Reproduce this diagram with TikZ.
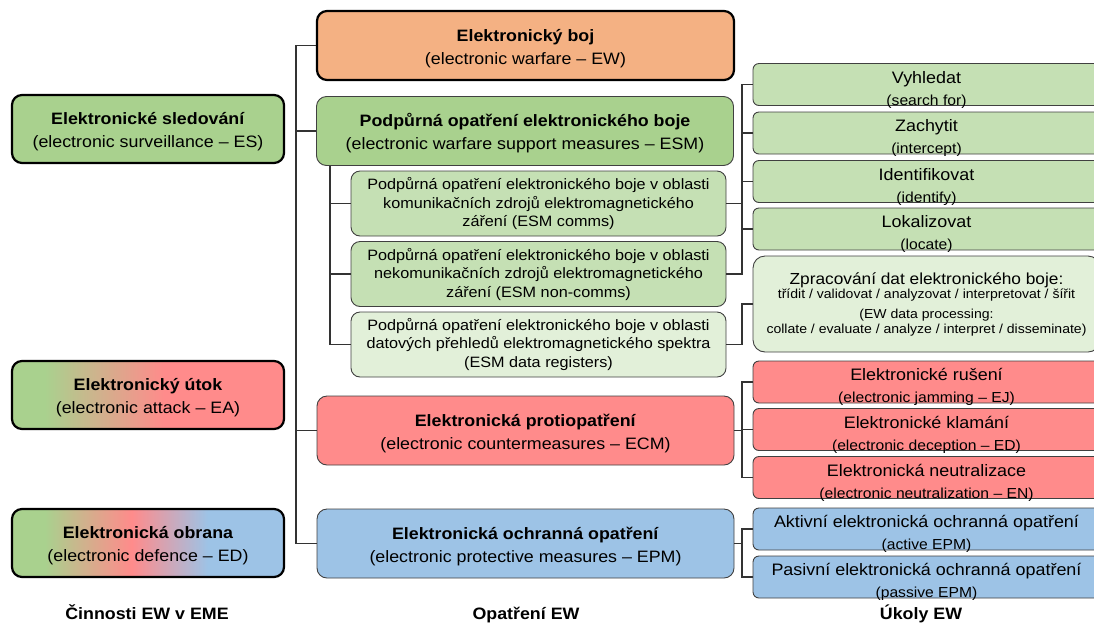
\documentclass[tikz,border=0pt]{standalone}
\usepackage{fontspec}
\setmainfont{Liberation Sans}[FakeStretch=1.08]
\usepackage{xcolor}
\lineskiplimit=-20pt

\definecolor{oranzova}{HTML}{F4B183}
\definecolor{zelena}{HTML}{A9D18E}
\definecolor{svzelena}{HTML}{C5E0B4}
\definecolor{bledezelena}{HTML}{E2F0D9}
\definecolor{cervena}{HTML}{FF8B8B}
\definecolor{modra}{HTML}{9DC3E6}
\definecolor{car}{HTML}{333333}

\pgfdeclarehorizontalshading{utok}{100bp}{color(0bp)=(zelena); color(31bp)=(zelena); color(53bp)=(cervena); color(100bp)=(cervena)}
\pgfdeclarehorizontalshading{obrana}{100bp}{color(0bp)=(zelena); color(31bp)=(zelena); color(47bp)=(cervena); color(61bp)=(modra); color(100bp)=(modra)}

\begin{document}
\begin{tikzpicture}[x=1pt, y=-1pt,
  lbox/.style={draw=black, line width=2.2pt, rounded corners=10pt, minimum width=272pt, minimum height=68pt, align=center, font=\fontsize{16.5}{23}\selectfont, text height=41pt, text depth=4pt},
  mbox/.style={draw=black!75, line width=0.9pt, rounded corners=10pt, minimum width=417pt, minimum height=69pt, align=center, font=\fontsize{16.5}{23}\selectfont, text height=41pt, text depth=4pt},
  sbox/.style={draw=black!75, line width=0.9pt, rounded corners=9pt, minimum width=375pt, minimum height=65pt, inner ysep=2pt, align=center, font=\fontsize{15}{18.5}\selectfont},
  rbox/.style={draw=black!75, line width=0.9pt, rounded corners=6pt, minimum width=347pt, minimum height=42pt, align=center},
  ukol/.style={rbox, inner ysep=-3pt, font=\fontsize{16.6}{22}\selectfont, text height=44pt, text depth=3pt},
  pod/.style={font=\bfseries\fontsize{16.5}{20}\selectfont, anchor=base},
  spoj/.style={draw=car, line width=1.3pt}]
			\useasboundingbox (0,0) rectangle (1094,622);
			\clip (0,0) rectangle (1094,622);
			% levý sloupec
			\node [lbox, fill=zelena] (es) at (148,129) {\textbf{Elektronické sledování}\\(electronic surveillance – ES)};
			\node [lbox, shade, shading=utok] (ea) at (148,395) {\textbf{Elektronický útok}\\(electronic attack – EA)};
			\node [lbox, shade, shading=obrana] (ed) at (148,543) {\textbf{Elektronická obrana}\\(electronic defence – ED)};
			% prostřední sloupec
			\node [mbox, fill=oranzova, draw=black, line width=2.2pt] (ew) at (525.5,45.5) {\textbf{Elektronický boj}\\(electronic warfare – EW)};
			\node [mbox, fill=zelena] (esm) at (525,131) {\textbf{Podpůrná opatření elektronického boje}\\(electronic warfare support measures – ESM)};
			\node [sbox, fill=svzelena] (comms) at (538.5,203.5) {Podpůrná opatření elektronického boje v oblasti\\komunikačních zdrojů elektromagnetického\\záření (ESM comms)};
			\node [sbox, fill=svzelena] (noncomms) at (538.5,274) {Podpůrná opatření elektronického boje v oblasti\\nekomunikačních zdrojů elektromagnetického\\záření (ESM non-comms)};
			\node [sbox, fill=bledezelena] (data) at (538.5,344.5) {Podpůrná opatření elektronického boje v oblasti\\datových přehledů elektromagnetického spektra\\(ESM data registers)};
			\node [mbox, fill=cervena] (ecm) at (525.5,430.5) {\textbf{Elektronická protiopatření}\\(electronic countermeasures – ECM)};
			\node [mbox, fill=modra] (epm) at (525.5,543.5) {\textbf{Elektronická ochranná opatření}\\(electronic protective measures – EPM)};
			% pravý sloupec
			\node [ukol, fill=svzelena] (vyh) at (926.5,84.5) {Vyhledat\\{\fontsize{14.5}{22}\selectfont (search for)}};
			\node [ukol, fill=svzelena] (zach) at (926.5,133) {Zachytit\\{\fontsize{14.5}{22}\selectfont (intercept)}};
			\node [ukol, fill=svzelena] (ident) at (926.5,181.5) {Identifikovat\\{\fontsize{14.5}{22}\selectfont (identify)}};
			\node [ukol, fill=svzelena] (lok) at (926.5,229) {Lokalizovat\\{\fontsize{14.5}{22}\selectfont (locate)}};
			\node [rbox, fill=bledezelena, minimum height=96pt, rounded corners=12pt, font=\fontsize{13}{14.5}\selectfont] (zprac) at (926.5,304) {{\fontsize{16}{14.5}\selectfont Zpracování dat elektronického boje:}\\třídit / validovat / analyzovat / interpretovat / šířit\\[5.5pt](EW data processing:\\collate / evaluate / analyze / interpret / disseminate)};
			\node [ukol, fill=cervena] (rus) at (926.5,382) {Elektronické rušení\\{\fontsize{14.5}{22}\selectfont (electronic jamming – EJ)}};
			\node [ukol, fill=cervena] (klam) at (926.5,429.5) {Elektronické klamání\\{\fontsize{14.5}{22}\selectfont (electronic deception – ED)}};
			\node [ukol, fill=cervena] (neut) at (926.5,477.5) {Elektronická neutralizace\\{\fontsize{14.5}{22}\selectfont (electronic neutralization – EN)}};
			\node [ukol, fill=modra] (akt) at (926.5,529) {Aktivní elektronická ochranná opatření\\{\fontsize{14.5}{22}\selectfont (active EPM)}};
			\node [ukol, fill=modra] (pas) at (926.5,577) {Pasivní elektronická ochranná opatření\\{\fontsize{14.5}{22}\selectfont (passive EPM)}};
			% popisky sloupců
			\node [pod] (cinnosti) at (147,619) {Činnosti EW v EME};
			\node [pod] (opatreni) at (526,619) {Opatření EW};
			\node [pod] (ukoly) at (921,619) {Úkoly EW};
			% spojnice
			\coordinate (k1) at (296,0);
			\coordinate (k2) at (330,0);
			\coordinate (k3) at (742,0);
			\draw [spoj] (ew.west) -| (k1 |- epm.west) -- (epm.west);
			\draw [spoj] (esm.west) -- (esm.west -| k1);
			\draw [spoj] (ecm.west) -- (ecm.west -| k1);
			\draw [spoj] (esm.south -| k2) |- (data.west);
			\draw [spoj] (comms.west) -- (comms.west -| k2);
			\draw [spoj] (noncomms.west) -- (noncomms.west -| k2);
			\draw [spoj] (vyh.west) -| (k3 |- noncomms.east) -- (noncomms.east);
			\draw [spoj] (zach.west) -- (zach.west -| k3);
			\draw [spoj] (ident.west) -- (ident.west -| k3);
			\draw [spoj] (lok.west) -- (lok.west -| k3);
			\draw [spoj] (comms.east) -- (comms.east -| k3);
			\draw [spoj] (data.east) -- (data.east -| k3) |- (zprac.west);
			\draw [spoj] (rus.west) -| (k3 |- neut.west) -- (neut.west);
			\draw [spoj] (klam.west) -- (klam.west -| k3);
			\draw [spoj] (ecm.east) -- (ecm.east -| k3);
			\draw [spoj] (akt.west) -| (k3 |- pas.west) -- (pas.west);
			\draw [spoj] (epm.east) -- (epm.east -| k3);
\end{tikzpicture}
\end{document}
